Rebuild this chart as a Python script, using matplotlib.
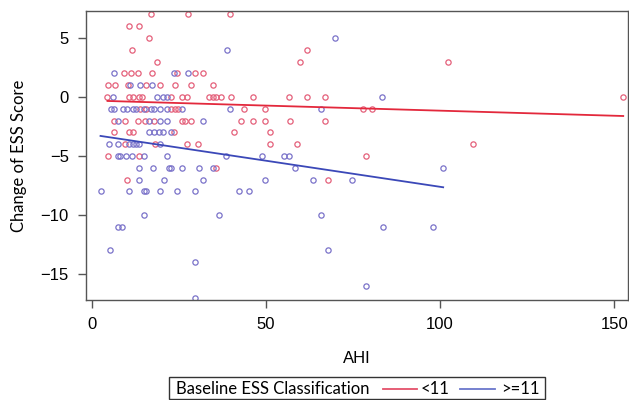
import numpy as np
import matplotlib
matplotlib.use("Agg")
import matplotlib.pyplot as plt
from matplotlib.lines import Line2D
from matplotlib.patches import Rectangle

plt.rcParams["font.family"] = ["Liberation Sans", "DejaVu Sans"]

# Baseline ESS < 11
red_ahi = [
    17.1, 27.7, 39.8,
    10.6, 13.5,
    16.4,
    11.6, 61.7,
    18.7, 59.8, 102.4,
    9.3, 11.2, 13.3, 17.4, 24.6, 29.6, 31.8,
    4.7, 6.8, 10.3, 15.7, 19.5, 23.9, 28.6, 34.9,
    4.5, 10.7, 11.9, 13.6, 14.3, 22.6, 25.9, 27.2, 33.7, 34.9, 35.8, 37.1,
    39.9, 46.4, 56.5, 61.9, 66.9, 152.6,
    13.8, 15.7, 22.6, 23.9, 24.8, 43.8, 49.7, 78.0, 80.6,
    6.4, 9.5, 13.3, 15.2, 17.8, 25.8, 26.7, 28.4, 42.7, 46.4, 49.7, 56.9, 66.9,
    6.4, 10.7, 11.9, 23.6, 40.8, 51.3,
    9.5, 18.1, 27.4, 30.5, 51.3, 58.8, 109.4,
    4.7, 13.6, 78.8,
    35.6,
    10.0, 67.7,
]
red_change = (
    [7] * 3 + [6] * 2 + [5] * 1 + [4] * 2 + [3] * 3 + [2] * 7 + [1] * 8
    + [0] * 18 + [-1] * 9 + [-2] * 13 + [-3] * 6 + [-4] * 7 + [-5] * 3
    + [-6] * 1 + [-7] * 2
)

# Baseline ESS >= 11
blue_ahi = [
    69.8,
    38.7,
    6.4, 23.7, 27.7,
    10.9, 13.8, 17.4,
    6.1, 18.8, 20.5, 21.6, 83.4,
    5.5, 6.4, 9.0, 10.0, 11.7, 12.8, 14.9, 16.9, 17.8, 19.5, 21.5, 25.8, 39.8, 65.8,
    7.4, 16.5, 19.5, 21.6, 31.8,
    16.5, 17.8, 19.3, 20.5, 22.6,
    5.0, 7.6, 10.7, 11.7, 12.6, 13.6, 19.5,
    7.6, 8.0, 9.7, 11.6, 15.0, 21.6, 38.4, 48.8, 55.3, 56.6,
    13.6, 17.6, 22.2, 22.6, 25.9, 30.7, 34.7, 58.3, 100.9,
    13.6, 20.7, 31.8, 49.7, 63.6, 74.8,
    2.5, 10.7, 15.0, 15.5, 19.6, 24.6, 29.6, 42.3, 45.1,
    15.0, 36.6, 65.8,
    7.6, 8.8, 83.5, 97.9,
    5.2, 67.7,
    29.6,
    78.8,
    29.6,
]
blue_change = (
    [5] * 1 + [4] * 1 + [2] * 3 + [1] * 3 + [0] * 5 + [-1] * 14 + [-2] * 5
    + [-3] * 5 + [-4] * 7 + [-5] * 10 + [-6] * 9 + [-7] * 6 + [-8] * 9
    + [-10] * 3 + [-11] * 4 + [-13] * 2 + [-14] * 1 + [-16] * 1 + [-17] * 1
)

# fitted lines (intercept, slope)
red_fit = (-0.30, -0.0086)
blue_fit = (-3.19, -0.0442)

red_line_c = "#e3283c"
red_mark_c = "#e4607a"
blue_line_c = "#3b48b8"
blue_mark_c = "#7a72c9"
humanist = ["Lato", "DejaVu Sans"]

fig = plt.figure(figsize=(6.29, 4.0), dpi=100)
ax = fig.add_axes([0.136, 0.25, 0.862, 0.723])

ax.plot(red_ahi, red_change, "o", mfc="none", mec=red_mark_c, ms=3.8, mew=0.9)
ax.plot(blue_ahi, blue_change, "o", mfc="none", mec=blue_mark_c, ms=3.8, mew=0.9)

for xs, fit, c in [(red_ahi, red_fit, red_line_c), (blue_ahi, blue_fit, blue_line_c)]:
    xx = np.array([min(xs), max(xs)])
    ax.plot(xx, fit[0] + fit[1] * xx, color=c, lw=1.3)

ax.set_xlim(-1.8, 153.9)
ax.set_ylim(-17.2, 7.3)
ax.set_xticks([0, 50, 100, 150])
ax.set_yticks([5, 0, -5, -10, -15])
ax.tick_params(direction="out", length=6, width=1, color="#555555",
               labelsize=12, pad=6)
for s in ax.spines.values():
    s.set_color("#555555")
    s.set_linewidth(1)

ax.set_xlabel("AHI", fontsize=12, labelpad=14)
ax.set_ylabel("Change of ESS Score", fontsize=12, family=humanist, labelpad=10)

# legend box at the bottom
fig.patches.append(Rectangle((169 / 629, 1 - 399 / 400), 376 / 629, 22 / 400,
                             transform=fig.transFigure, fill=False,
                             edgecolor="#333333", lw=1))
ly = 1 - 389 / 400
fig.text(176 / 629, ly, "Baseline ESS Classification", fontsize=12,
         family=humanist, va="center", ha="left")
fig.add_artist(Line2D([383 / 629, 417 / 629], [ly, ly], color="#e4506a",
                      lw=1.3, transform=fig.transFigure))
fig.text(421 / 629, ly, "<11", fontsize=12, family=humanist,
         va="center", ha="left")
fig.add_artist(Line2D([460 / 629, 495 / 629], [ly, ly], color="#6a76cc",
                      lw=1.3, transform=fig.transFigure))
fig.text(501 / 629, ly, ">=11", fontsize=12, family=humanist,
         va="center", ha="left")

fig.savefig("out.png", dpi=100)
